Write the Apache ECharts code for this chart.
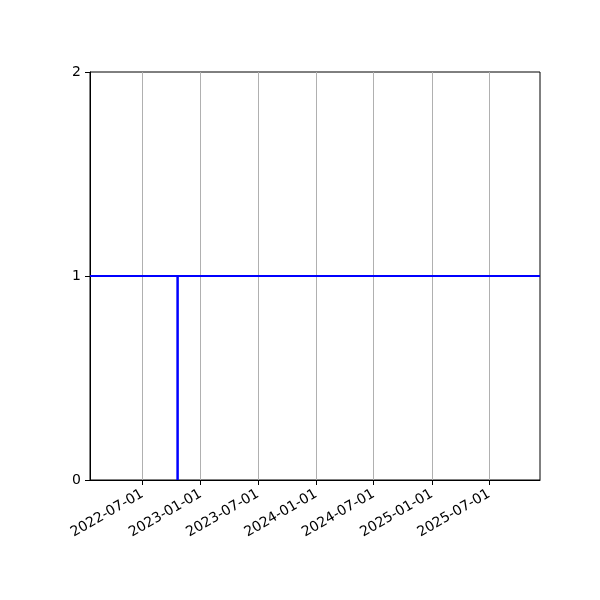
<!DOCTYPE html>
<html>
<head>
    <meta http-equiv="Content-Type" content="text/html; charset=utf-8">
    <title>Document</title>
    <script src="https://cdn.jsdelivr.net/npm/echarts@6/dist/echarts.min.js"></script>
    <style>
        html, body {margin:0; padding:0; background:#fff;}
    </style>
</head>
<body>
    <div id="main" style="width: 600px;height:600px;"></div>
    <script type="text/javascript">
        // data
        var xRange = ['2022-01-16', '2025-12-09'];
        var tickDates = ['2022-07-01', '2023-01-01', '2023-07-01', '2024-01-01',
                         '2024-07-01', '2025-01-01', '2025-07-01'];
        var yTicks = [0, 1, 2];
        var hlineDates = ['2022-01-16', '2025-12-09'];
        var hlineValues = [1, 1];
        var vlineDates = ['2022-10-20', '2022-10-20'];
        var vlineValues = [0, 1];

        function ts(s) {
            var p = s.split('-');
            return Date.UTC(+p[0], +p[1] - 1, +p[2]);
        }
        function pad(n) { return n < 10 ? '0' + n : '' + n; }
        function fmt(v) {
            var d = new Date(v);
            return d.getUTCFullYear() + '-' + pad(d.getUTCMonth() + 1) + '-' + pad(d.getUTCDate());
        }
        function pairs(xs, ys) {
            return xs.map(function (x, i) { return [ts(x), ys[i]]; });
        }

        var myChart = echarts.init(document.getElementById('main'));
        var font = 'DejaVu Sans';
        // time values kept as plain numbers so the tick dates can be given directly
        var option = {
            animation: false,
            backgroundColor: '#fff',
            grid: {left: 90, right: 60, top: 72, bottom: 120, show: true,
                   borderColor: '#000', borderWidth: 1, backgroundColor: 'transparent'},
            xAxis: {
                type: 'value',
                min: ts(xRange[0]),
                max: ts(xRange[1]),
                axisLine: {show: true, lineStyle: {color: '#000', width: 1}},
                axisTick: {show: true, length: 5, lineStyle: {color: '#000'},
                           customValues: tickDates.map(ts)},
                axisLabel: {customValues: tickDates.map(ts), rotate: 30, margin: 13,
                            color: '#000', fontFamily: font, fontSize: 14,
                            formatter: function (v) { return fmt(v); }},
                splitLine: {show: true, lineStyle: {color: '#b0b0b0', width: 1}}
            },
            yAxis: {
                type: 'value',
                min: yTicks[0],
                max: yTicks[yTicks.length - 1],
                interval: 1,
                axisLine: {show: true, lineStyle: {color: '#000', width: 1}},
                axisTick: {show: true, length: 5, lineStyle: {color: '#000'}},
                axisLabel: {color: '#000', fontFamily: font, fontSize: 14, margin: 9},
                splitLine: {show: false}
            },
            series: [
                {type: 'line', data: pairs(hlineDates, hlineValues), showSymbol: false,
                 lineStyle: {color: '#0000ff', width: 2}, itemStyle: {color: '#0000ff'}},
                {type: 'line', data: pairs(vlineDates, vlineValues), showSymbol: false,
                 lineStyle: {color: '#0000ff', width: 2.5}, itemStyle: {color: '#0000ff'}}
            ]
        };
        myChart.setOption(option);
    </script>
</body>
</html>
